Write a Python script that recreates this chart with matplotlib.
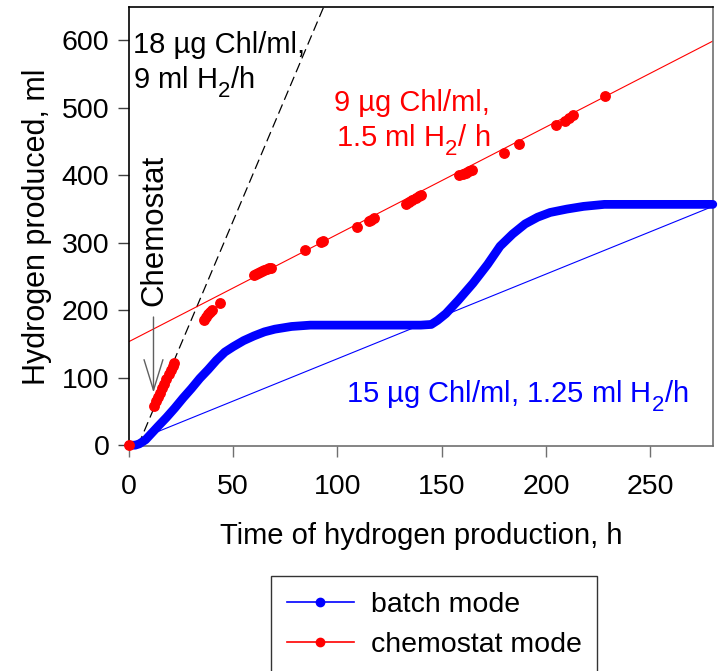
import matplotlib
matplotlib.use("Agg")
import matplotlib.pyplot as plt
from matplotlib.lines import Line2D

try:
    import matplotlib._mathtext as _mt
    _mt.SHRINK_FACTOR = 0.76
    _mt.FontConstantsBase.sub1 = 0.62
except Exception:
    pass

plt.rcParams['font.family'] = ['Liberation Sans', 'DejaVu Sans']
plt.rcParams['mathtext.fontset'] = 'custom'
plt.rcParams['mathtext.rm'] = 'Liberation Sans'
plt.rcParams['mathtext.it'] = 'Liberation Sans'

# ---- data ----
batch_t = [0, 3, 5, 8, 11, 14, 18, 22, 26, 30, 34, 38, 42, 46, 50, 55, 60, 65,
           70, 78, 87, 100, 120, 140, 145, 148, 152, 158, 165, 172, 178, 184,
           190, 196, 202, 210, 218, 228, 240, 260, 280]
batch_y = [0, 0, 2, 8, 18, 28, 41, 55, 70, 84, 99, 112, 126, 138, 146, 155, 162,
           168, 172, 176, 178, 178, 178, 178, 179, 185, 195, 215, 240, 268, 295,
           313, 328, 338, 345, 350, 354, 357, 357, 357, 357]

chem_t = [0, 12, 13, 14, 15, 16, 17, 18, 19, 20, 21, 21.7,
          36, 37, 38, 39, 40, 43.5,
          60, 61, 62, 63, 64, 65, 66, 67, 68,
          84.5, 92, 93, 109.5, 115, 116, 117.5,
          133, 134.5, 136, 137.5, 139, 140,
          158.5, 160, 161.5, 163, 164.3,
          180, 187, 205, 209, 211, 213, 228.5]
chem_y = [0, 58, 65, 71, 78, 85, 91, 98, 105, 111, 118, 122,
          186, 190, 194, 198, 201, 211,
          252, 253.5, 255, 256.5, 258, 259.5, 261, 262, 263,
          289, 301, 303, 324, 332, 334, 337,
          358, 361, 364, 366, 369, 371.5,
          400, 402, 404, 406, 408.6,
          433, 446, 475, 480, 485, 490, 517]

# reference rate lines (end points)
line18_t = [4.5, 94]
line18_y = [0, 654]
line9_t = [0, 280]
line9_y = [153.5, 599]
line15_t = [9, 280]
line15_y = [14, 354]

xticks = [0, 50, 100, 150, 200, 250]
yticks = [0, 100, 200, 300, 400, 500, 600]

FS = 20.5
AFS = 21

fig = plt.figure(figsize=(7.2, 6.71), dpi=100)
ax = fig.add_axes([0.179, 0.335, 0.811, 0.655])

# reference lines
ax.plot(line18_t, line18_y, color='black', lw=0.9, dashes=(8, 4))
ax.plot(line9_t, line9_y, color='#ff0000', lw=0.8)
ax.plot(line15_t, line15_y, color='#0000ff', lw=0.8)

# batch mode
ax.plot(batch_t, batch_y, color='#0000ff', lw=6.3, solid_capstyle='round',
        solid_joinstyle='round', zorder=3, clip_on=False)
# chemostat mode
ax.plot(chem_t, chem_y, linestyle='none', marker='o', ms=6.8, color='#ff0000',
        mec='#ff0000', zorder=4, clip_on=False)

ax.set_xlim(0, 280)
ax.set_ylim(-1.5, 650)
ax.set_xticks(xticks)
ax.set_yticks(yticks)
ax.tick_params(direction='out', length=8, width=1, labelsize=FS, pad=6)
ax.tick_params(axis='x', colors='#707070', labelcolor='black', pad=12)
ax.tick_params(axis='y', colors='#404040', labelcolor='black')
for s in ['left', 'top']:
    ax.spines[s].set_color('black')
for s in ['right', 'bottom']:
    ax.spines[s].set_color('#707070')
for s in ax.spines.values():
    s.set_linewidth(1.2)

ax.set_xlabel('Time of hydrogen production, h', fontsize=21, labelpad=16)
ax.set_ylabel('Hydrogen produced, ml', fontsize=22, labelpad=7)

# annotations
ax.text(2.2, 582, '18 \u00b5g Chl/ml,', fontsize=AFS, color='black', va='baseline')
ax.text(2.2, 530, '9 ml H$_\\mathregular{2}$/h', fontsize=AFS, color='black', va='baseline')
ax.text(98.5, 495, '9 \u00b5g Chl/ml,', fontsize=AFS, color='#ff0000', va='baseline')
ax.text(99.5, 443, '1.5 ml H$_\\mathregular{2}$/ h', fontsize=AFS, color='#ff0000', va='baseline')
ax.text(104.3, 64, '15 \u00b5g Chl/ml, 1.25 ml H$_\\mathregular{2}$/h', fontsize=AFS,
        color='#0000ff', va='baseline')

ax.text(12.3, 318, 'Chemostat', rotation=90, fontsize=22.5, ha='center', va='center')
ax.annotate('', xy=(11.8, 78), xytext=(11.8, 190),
            arrowprops=dict(arrowstyle='->, head_length=1.1, head_width=0.34',
                            color='#606060', lw=1.0, mutation_scale=20,
                            shrinkA=0, shrinkB=0))

handles = [Line2D([], [], color='#0000ff', lw=1.2, marker='o', ms=6),
           Line2D([], [], color='#ff0000', lw=1.2, marker='o', ms=6)]
leg = fig.legend(handles, ['batch mode', 'chemostat mode'], loc='upper left',
                 bbox_to_anchor=(271 / 720, 1 - 576 / 671), fontsize=FS,
                 frameon=True, fancybox=False, handlelength=2.35,
                 handletextpad=0.6, borderpad=0.55, labelspacing=0.5,
                 borderaxespad=0)
leg.get_frame().set_edgecolor('black')
leg.get_frame().set_linewidth(1.0)

fig.savefig('out.png', dpi=100)
